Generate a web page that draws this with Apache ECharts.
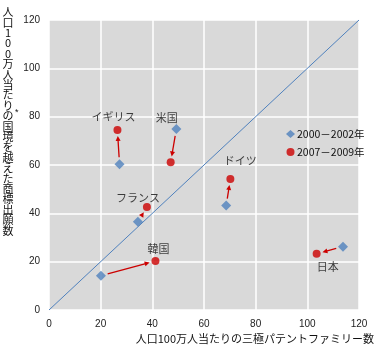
<!DOCTYPE html>
<html><head><meta charset="utf-8">
<script src="https://cdn.jsdelivr.net/npm/echarts@6/dist/echarts.min.js"></script>
<style>html,body{margin:0;padding:0;background:#fff}#c{width:380px;height:350px}</style>
</head><body><div id="c"></div>
<script>
const countries = ['イギリス','米国','フランス','ドイツ','韓国','日本'];
const x2000 = [27.3, 49.3, 34.4, 68.6, 20.1, 113.8];
const y2000 = [60.3, 74.9, 36.5, 43.2, 14.2, 26.2];
const x2007 = [26.5, 47.1, 37.9, 70.2, 41.2, 103.6];
const y2007 = [74.5, 61.1, 42.6, 54.2, 20.3, 23.3];
const seriesNames = ['2000－2002年', '2007－2009年'];
const diagonal = [[0,0],[120,120]];
const axisTicks = [0,20,40,60,80,100,120];
const yTitle = '人口100万人当たりの国境を越えた商標出願数';
const xTitle = '人口100万人当たりの三極パテントファミリー数';

// label placement (style, pixels)
const labelOffsets = [[-4,-13],[-4,-45],[-9,-9],[10,-18],[3,-12],[11,13]];

const BLUE = '#4f81bd', RED = '#cc0000';
const FONT = '"Liberation Sans", "Noto Sans CJK JP", sans-serif';
const JFONT = '"Noto Sans CJK JP", sans-serif';

const chart = echarts.init(document.getElementById('c'), null, {renderer:'canvas'});
const axisCommon = {
  type:'value', min: axisTicks[0], max: axisTicks[axisTicks.length-1], interval: 20,
  axisLine:{show:false}, axisTick:{show:false},
  splitLine:{show:true, lineStyle:{color:'#ffffff', width:1.5}},
  axisLabel:{color:'#222', fontSize:10, fontFamily:FONT, margin:9}
};
const yLines = yTitle.split('');
chart.setOption({
  animation:false,
  grid:{left:49, top:20, width:310, height:290, show:true, backgroundColor:'#d9d9d9', borderWidth:0},
  xAxis: Object.assign({}, axisCommon),
  yAxis: Object.assign({}, axisCommon),
  legend:{
    data: seriesNames, orient:'vertical', left:281, top:123,
    itemWidth:9, itemHeight:8, itemGap:6,
    textStyle:{fontSize:10.5, fontFamily:JFONT, color:'#111', lineHeight:12, padding:[0,0,0,-3]}
  },
  graphic:[
    {type:'group', children: yLines.map((ch,i)=>({
      type:'text', x:8, y:12 + i*10.4,
      style:{text: ch, fontSize:11, fontFamily:JFONT, fill:'#111', textAlign:'center', textVerticalAlign:'middle'}
    }))},
    {type:'text', x:15, y:108, style:{text:'*', fontSize:9, fontFamily:FONT, fill:'#111'}},
    {type:'text', right:6, top:333, style:{text: xTitle, fontSize:11, fontFamily:JFONT, fill:'#111'}}
  ],
  series:[
    {type:'line', data: diagonal, symbol:'none', silent:true, lineStyle:{color:BLUE, width:1}, z:1},
    {type:'custom', coordinateSystem:'cartesian2d', z:2, silent:true,
      data: countries.map((c,i)=>[x2000[i],y2000[i],x2007[i],y2007[i]]),
      encode:{x:[0,2], y:[1,3]},
      renderItem:function(params, api){
        const p0 = api.coord([api.value(0), api.value(1)]);
        const p1 = api.coord([api.value(2), api.value(3)]);
        const dx = p1[0]-p0[0], dy = p1[1]-p0[1];
        const L = Math.sqrt(dx*dx+dy*dy); const ux = dx/L, uy = dy/L;
        const s = [p0[0]+ux*7, p0[1]+uy*7];
        const t = [p1[0]-ux*6, p1[1]-uy*6];
        const hl = 5, hw = 2.5;
        const b = [t[0]-ux*hl, t[1]-uy*hl];
        return {type:'group', children:[
          {type:'line', shape:{x1:s[0], y1:s[1], x2:b[0]+ux*1, y2:b[1]+uy*1}, style:{stroke:RED, lineWidth:1.3}},
          {type:'polygon', shape:{points:[t,[b[0]-uy*hw, b[1]+ux*hw],[b[0]+uy*hw, b[1]-ux*hw]]}, style:{fill:RED}}
        ]};
      }
    },
    {name: seriesNames[0], type:'scatter', symbol:'diamond', symbolSize:10, z:3,
      itemStyle:{color:BLUE}, data: countries.map((c,i)=>({name:c, value:[x2000[i], y2000[i]]}))},
    {name: seriesNames[1], type:'scatter', symbol:'circle', symbolSize:8, z:3,
      itemStyle:{color:RED},
      data: countries.map((c,i)=>({name:c, value:[x2007[i], y2007[i]],
        label:{show:true, position:'inside', offset: labelOffsets[i], formatter: c,
          fontSize:11, fontFamily:JFONT, color:'#111'}}))}
  ]
});
</script></body></html>
